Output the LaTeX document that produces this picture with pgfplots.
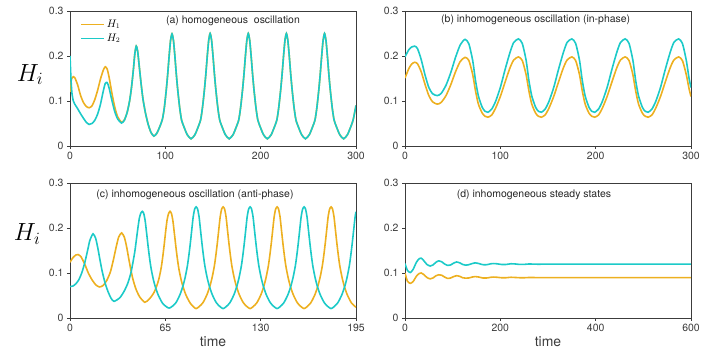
\documentclass[border=0pt]{standalone}
\usepackage{fontspec}
\setmainfont{TeX Gyre Heros}
\usepackage{pgfplots}
\usepackage{pgfplotstable}
\pgfplotsset{compat=1.18}

\definecolor{hone}{RGB}{237,176,32}
\definecolor{htwo}{RGB}{28,202,200}
\definecolor{axgray}{RGB}{60,60,60}

\tikzset{ptitle/.style={font=\fontsize{10.5}{12}\selectfont, text=black!85}}

\pgfplotsset{
  panel/.style={
    scale only axis, width=286bp, height=135bp,
    anchor=south west,
    ymin=0, ymax=0.3, ytick={0,0.1,0.2,0.3},
    axis line style={axgray, line width=0.8bp},
    tick style={axgray, line width=0.8bp},
    tick align=outside, tick pos=left,
    major tick length=3bp,
    tick label style={font=\fontsize{10.5}{12}\selectfont, text=axgray},
    /pgf/number format/assume math mode=true,
    every axis plot/.append style={line width=1.6bp, smooth, tension=0.4},
  },
  hlabel/.style={ylabel={$H_i$},
    ylabel style={rotate=-90, font=\fontsize{27}{30}\selectfont,
      at={(axis description cs:#1)}, anchor=center}},
  tlabel/.style={xlabel={time},
    xlabel style={font=\fontsize{14}{16}\selectfont, text=axgray,
      at={(axis description cs:0.5,0)}, anchor=north, yshift=-15bp}},
}

% (a) homogeneous oscillation
\pgfplotstableread{
t H1 H2
0 0.120 0.200
1 0.142 0.150
2 0.151 0.118
3.5 0.154 0.100
5 0.152 0.093
8 0.136 0.083
11 0.113 0.072
14 0.097 0.062
17 0.088 0.053
20 0.085 0.048
23 0.089 0.050
26 0.103 0.057
29 0.124 0.071
32 0.149 0.093
35 0.169 0.123
37 0.176 0.139
39 0.171 0.141
41 0.153 0.129
44 0.117 0.101
47 0.086 0.076
50 0.065 0.060
54 0.053 0.051
57 0.058 0.057
60 0.075 0.075
62.5 0.100 0.100
64.5 0.130 0.130
66.5 0.170 0.170
68 0.205 0.205
69.5 0.222 0.222
71 0.210 0.210
72.5 0.180 0.180
74.5 0.140 0.140
76.5 0.105 0.105
79 0.075 0.075
82 0.048 0.048
85 0.030 0.030
88 0.022 0.022
91 0.028 0.028
94 0.042 0.042
97 0.060 0.060
99 0.086 0.086
101 0.125 0.125
102.5 0.160 0.160
104 0.200 0.200
105.5 0.235 0.235
107 0.249 0.249
108.5 0.235 0.235
110 0.200 0.200
111.5 0.160 0.160
113 0.125 0.125
115 0.086 0.086
117 0.058 0.058
120 0.040 0.040
123 0.025 0.025
127 0.016 0.016
131 0.025 0.025
134 0.040 0.040
137 0.058 0.058
139 0.086 0.086
141 0.125 0.125
142.5 0.160 0.160
144 0.200 0.200
145.5 0.235 0.235
147 0.250 0.250
148.5 0.235 0.235
150 0.200 0.200
151.5 0.160 0.160
153 0.125 0.125
155 0.086 0.086
157 0.058 0.058
160 0.040 0.040
163 0.025 0.025
167 0.016 0.016
171 0.025 0.025
174 0.040 0.040
177 0.058 0.058
179 0.086 0.086
181 0.125 0.125
182.5 0.160 0.160
184 0.200 0.200
185.5 0.235 0.235
187 0.250 0.250
188.5 0.235 0.235
190 0.200 0.200
191.5 0.160 0.160
193 0.125 0.125
195 0.086 0.086
197 0.058 0.058
200 0.040 0.040
203 0.025 0.025
207 0.016 0.016
211 0.025 0.025
214 0.040 0.040
217 0.058 0.058
219 0.086 0.086
221 0.125 0.125
222.5 0.160 0.160
224 0.200 0.200
225.5 0.235 0.235
227 0.250 0.250
228.5 0.235 0.235
230 0.200 0.200
231.5 0.160 0.160
233 0.125 0.125
235 0.086 0.086
237 0.058 0.058
240 0.040 0.040
243 0.025 0.025
247 0.016 0.016
251 0.025 0.025
254 0.040 0.040
257 0.058 0.058
259 0.086 0.086
261 0.125 0.125
262.5 0.160 0.160
264 0.200 0.200
265.5 0.235 0.235
267 0.250 0.250
268.5 0.235 0.235
270 0.200 0.200
271.5 0.160 0.160
273 0.125 0.125
275 0.086 0.086
277 0.058 0.058
280 0.040 0.040
283 0.025 0.025
287 0.016 0.016
291 0.025 0.025
294 0.040 0.040
297 0.058 0.058
300 0.090 0.090
}\tableA

% (b) inhomogeneous oscillation, in-phase
\pgfplotstableread{
t H1 H2
0 0.151 0.198
4 0.172 0.214
7 0.182 0.220
10 0.186 0.222
13 0.183 0.217
17 0.165 0.192
21 0.137 0.158
25 0.112 0.130
29 0.098 0.116
34 0.093 0.112
38 0.097 0.117
43 0.112 0.135
48 0.136 0.163
53 0.165 0.197
58 0.188 0.225
63 0.197 0.237
67 0.190 0.227
71 0.159 0.190
74 0.122 0.145
77 0.093 0.111
81 0.073 0.086
84 0.066 0.077
87 0.064 0.075
91 0.069 0.082
95 0.084 0.099
100 0.110 0.130
105 0.142 0.170
110 0.173 0.207
114 0.191 0.230
119 0.198 0.238
123 0.190 0.228
127 0.159 0.191
130 0.122 0.145
133 0.093 0.111
137 0.073 0.086
140 0.066 0.077
143 0.064 0.075
147 0.069 0.082
151 0.084 0.099
156 0.110 0.130
161 0.142 0.170
166 0.173 0.207
170 0.191 0.230
175 0.198 0.238
179 0.190 0.228
183 0.159 0.191
186 0.122 0.145
189 0.093 0.111
193 0.073 0.086
196 0.066 0.077
199 0.064 0.075
203 0.069 0.082
207 0.084 0.099
212 0.110 0.130
217 0.142 0.170
222 0.173 0.207
226 0.191 0.230
231 0.198 0.238
235 0.190 0.228
239 0.159 0.191
242 0.122 0.145
245 0.093 0.111
249 0.073 0.086
252 0.066 0.077
255 0.064 0.075
259 0.069 0.082
263 0.084 0.099
268 0.110 0.130
273 0.142 0.170
278 0.173 0.207
282 0.191 0.230
287 0.198 0.238
291 0.190 0.228
295 0.159 0.191
298 0.127 0.150
300 0.110 0.130
}\tableB

% (d) inhomogeneous steady states
\pgfplotstableread{
t H1 H2
0 0.100 0.121
5 0.082 0.106
11 0.077 0.101
17 0.081 0.108
24 0.093 0.124
30 0.099 0.132
34 0.100 0.133
39 0.097 0.128
46 0.090 0.119
53 0.087 0.1155
59 0.089 0.118
65 0.094 0.124
71 0.096 0.127
77 0.095 0.125
83 0.091 0.120
89 0.088 0.117
96 0.089 0.118
102 0.092 0.122
108 0.094 0.1245
115 0.0925 0.1225
121 0.0895 0.119
127 0.0885 0.1175
134 0.089 0.1185
141 0.091 0.121
147 0.092 0.1225
155 0.091 0.121
163 0.089 0.1185
172 0.089 0.1185
180 0.0905 0.1205
185 0.091 0.121
193 0.0905 0.1205
202 0.0895 0.119
212 0.0895 0.119
222 0.0905 0.1205
232 0.090 0.120
241 0.0895 0.119
251 0.0895 0.1192
260 0.090 0.1200
280 0.0898 0.1195
300 0.0898 0.1197
400 0.0898 0.1197
600 0.0898 0.1197
}\tableD

\begin{document}
\begin{tikzpicture}
\useasboundingbox (0,0) rectangle (706bp,358bp);

% ---- (a)
\begin{axis}[panel, at={(70bp,212bp)},
    xmin=0, xmax=300, xtick={0,100,200,300},
    hlabel={-0.14,0.53},
    legend style={draw=none, fill=none, at={(axis description cs:0.025,0.965)},
      anchor=north west, font=\fontsize{10.5}{12}\selectfont, row sep=1bp},
    legend cell align=left,
    legend image code/.code={\draw[#1, line width=1.6bp] (0bp,0bp) -- (23bp,0bp);},
]
\addplot[hone] table[x=t, y=H1] {\tableA};
\addlegendentry{$H_1$}
\addplot[htwo] table[x=t, y=H2] {\tableA};
\addlegendentry{$H_2$}
\node[ptitle] at (axis description cs:0.57,0.926) {(a) homogeneous\ \ oscillation};
\end{axis}

% ---- (b)
\begin{axis}[panel, at={(405bp,212bp)},
    xmin=0, xmax=300, xtick={0,100,200,300}]
\addplot[hone] table[x=t, y=H1] {\tableB};
\addplot[htwo] table[x=t, y=H2] {\tableB};
\node[ptitle] at (axis description cs:0.457,0.933) {(b) inhomogeneous oscillation (in-phase)};
\end{axis}

% ---- (c)
\begin{axis}[panel, at={(70bp,40bp)},
    xmin=0, xmax=195, xtick={0,65,130,195},
    hlabel={-0.15,0.62}, tlabel]
\addplot[hone] coordinates {
(0,0.124) (2,0.134) (4,0.140) (5.5,0.141) (7.5,0.136) (10,0.120) (12.5,0.100)
(15,0.085) (17.5,0.074) (20,0.069) (22.5,0.072) (25,0.083) (27.5,0.102)
(29.5,0.128) (31.5,0.158) (33.2,0.180) (35.2,0.189) (37,0.180) (38.5,0.160)
(40,0.133) (41.5,0.107) (43,0.085) (45,0.064) (47.5,0.047) (51,0.035)
(54,0.042) (57,0.055) (59,0.070) (60.7,0.088) (62.2,0.112) (63.2,0.135)
(64.2,0.162) (65.2,0.192) (66.2,0.218) (67.2,0.232) (68.2,0.237)
(69.2,0.232) (70.2,0.215) (71.2,0.187) (72.2,0.158) (73.2,0.132) (74.2,0.110)
(75.7,0.086) (77.2,0.068) (79.2,0.050) (82.2,0.032) (86,0.021)
(90.4,0.033) (93.4,0.052) (95.4,0.071) (96.9,0.090) (98.4,0.115) (99.4,0.138)
(100.4,0.165) (101.4,0.195) (102.4,0.225) (103.4,0.242) (104.4,0.247)
(105.4,0.242) (106.4,0.225) (107.4,0.195) (108.4,0.165) (109.4,0.138)
(110.4,0.115) (111.9,0.090) (113.4,0.071) (115.4,0.052) (118.4,0.033) (122.8,0.021)
(127.2,0.033) (130.2,0.052) (132.2,0.071) (133.7,0.090) (135.2,0.115) (136.2,0.138)
(137.2,0.165) (138.2,0.195) (139.2,0.225) (140.2,0.242) (141.2,0.247)
(142.2,0.242) (143.2,0.225) (144.2,0.195) (145.2,0.165) (146.2,0.138)
(147.2,0.115) (148.7,0.090) (150.2,0.071) (152.2,0.052) (155.2,0.033) (159.6,0.021)
(164,0.033) (167,0.052) (169,0.071) (170.5,0.090) (172,0.115) (173,0.138)
(174,0.165) (175,0.195) (176,0.225) (177,0.242) (178,0.247)
(179,0.242) (180,0.225) (181,0.195) (182,0.165) (183,0.138)
(184,0.115) (185.5,0.090) (187,0.071) (189,0.052) (192,0.033) (195,0.024)
};
\addplot[htwo] coordinates {
(0,0.070) (2,0.071) (4,0.076) (6,0.085) (8,0.100) (10,0.122) (12,0.150)
(13.5,0.172) (15.7,0.187) (17.5,0.177) (19,0.155) (20.5,0.128) (22,0.103)
(24,0.077) (26,0.058) (28,0.044) (30,0.037)
(34,0.045) (37,0.060) (39.5,0.078) (41.5,0.100) (43,0.125) (44.3,0.150)
(45.3,0.175) (46.3,0.200) (47.3,0.222) (48.3,0.233) (49.3,0.237)
(50.3,0.232) (51.3,0.215) (52.3,0.187) (53.3,0.158) (54.3,0.132) (55.3,0.110)
(56.8,0.086) (58.3,0.068) (60.3,0.050) (63.3,0.032) (67.6,0.022)
(72,0.033) (75,0.052) (77,0.071) (78.5,0.090) (80,0.115) (81,0.138)
(82,0.165) (83,0.195) (84,0.225) (85,0.242) (86,0.247)
(87,0.242) (88,0.225) (89,0.195) (90,0.165) (91,0.138) (92,0.115)
(93.5,0.090) (95,0.071) (97,0.052) (100,0.033) (104.4,0.021)
(108.8,0.033) (111.8,0.052) (113.8,0.071) (115.3,0.090) (116.8,0.115) (117.8,0.138)
(118.8,0.165) (119.8,0.195) (120.8,0.225) (121.8,0.242) (122.8,0.247)
(123.8,0.242) (124.8,0.225) (125.8,0.195) (126.8,0.165) (127.8,0.138) (128.8,0.115)
(130.3,0.090) (131.8,0.071) (133.8,0.052) (136.8,0.033) (141.2,0.021)
(145.6,0.033) (148.6,0.052) (150.6,0.071) (152.1,0.090) (153.6,0.115) (154.6,0.138)
(155.6,0.165) (156.6,0.195) (157.6,0.225) (158.6,0.242) (159.6,0.247)
(160.6,0.242) (161.6,0.225) (162.6,0.195) (163.6,0.165) (164.6,0.138) (165.6,0.115)
(167.1,0.090) (168.6,0.071) (170.6,0.052) (173.6,0.033) (178,0.021)
(182.4,0.033) (185.4,0.052) (187.4,0.071) (188.9,0.090) (190.4,0.115) (191.4,0.138)
(192.4,0.165) (193.4,0.195) (194.4,0.225) (195,0.236)
};
\node[ptitle] at (axis description cs:0.437,0.911) {(c) inhomogeneous oscillation (anti-phase)};
\end{axis}

% ---- (d)
\begin{axis}[panel, at={(405bp,40bp)},
    xmin=0, xmax=600, xtick={0,200,400,600}, tlabel]
\addplot[hone] table[x=t, y=H1] {\tableD};
\addplot[htwo] table[x=t, y=H2] {\tableD};
\node[ptitle] at (axis description cs:0.451,0.911) {(d) inhomogeneous steady states};
\end{axis}
\end{tikzpicture}
\end{document}
